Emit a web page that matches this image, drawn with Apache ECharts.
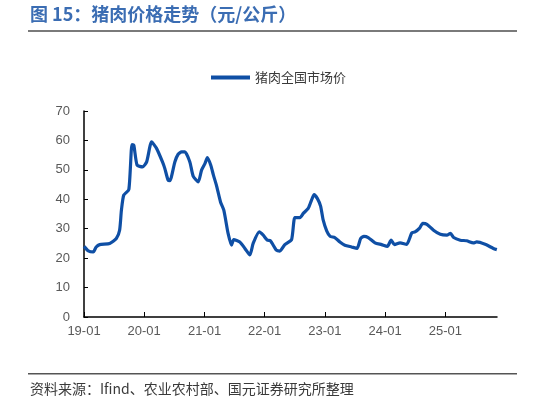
<!DOCTYPE html>
<html>
<head>
<meta charset="utf-8">
<script src="https://cdn.jsdelivr.net/npm/echarts@6/dist/echarts.min.js"></script>
<style>
  html, body { margin: 0; padding: 0; background: #fff; }
  #main { width: 536px; height: 403px; }
</style>
</head>
<body>
<div id="main"></div>
<script>
// 猪肉全国市场价 (元/公斤)
var dates = [
    '2019-01-01', '2019-01-27', '2019-02-26', '2019-03-16', '2019-04-06', '2019-06-06',
    '2019-07-16', '2019-08-05', '2019-08-16', '2019-08-30', '2019-09-30', '2019-10-19',
    '2019-10-30', '2019-11-19', '2019-12-22', '2020-01-16', '2020-02-15', '2020-03-16',
    '2020-04-21', '2020-05-05', '2020-05-25', '2020-06-05', '2020-07-05', '2020-07-25',
    '2020-08-15', '2020-09-04', '2020-10-04', '2020-10-24', '2020-11-24', '2020-12-14',
    '2021-01-04', '2021-01-18', '2021-02-08', '2021-02-24', '2021-03-14', '2021-04-08',
    '2021-04-28', '2021-05-24', '2021-06-14', '2021-06-27', '2021-08-03', '2021-09-03',
    '2021-10-03', '2021-10-23', '2021-11-29', '2021-12-23', '2022-01-17', '2022-02-03',
    '2022-03-13', '2022-04-03', '2022-05-03', '2022-06-13', '2022-07-03', '2022-08-03',
    '2022-08-23', '2022-09-22', '2022-10-12', '2022-10-28', '2022-11-16', '2022-12-06',
    '2022-12-22', '2023-01-12', '2023-02-02', '2023-03-02', '2023-04-02', '2023-05-02',
    '2023-06-12', '2023-07-15', '2023-08-06', '2023-08-26', '2023-09-21', '2023-11-01',
    '2023-12-11', '2024-01-15', '2024-02-07', '2024-02-27', '2024-04-01', '2024-05-11',
    '2024-06-11', '2024-07-01', '2024-07-27', '2024-08-17', '2024-09-11', '2024-10-21',
    '2024-12-01', '2025-01-10', '2025-02-01', '2025-02-20', '2025-04-01', '2025-05-10',
    '2025-06-20', '2025-07-10', '2025-08-30', '2025-10-19', '2025-11-09'
];
var prices = [
    24.0, 22.5, 22.1, 23.8, 24.6, 25.0,
    26.7, 29.5, 36.3, 41.4, 43.3, 58.6,
    58.4, 51.6, 51.0, 52.7, 59.5, 57.3,
    52.7, 50.5, 46.5, 46.3, 52.7, 55.3,
    56.1, 56.1, 52.7, 47.9, 45.9, 49.9,
    52.2, 54.2, 51.6, 48.2, 44.8, 39.1,
    36.3, 28.4, 24.4, 26.3, 25.5, 23.3,
    21.1, 25.0, 28.9, 27.8, 26.1, 26.0,
    22.7, 22.4, 24.6, 26.3, 33.8, 33.8,
    35.2, 36.9, 39.7, 41.6, 40.3, 37.7,
    32.9, 29.3, 27.4, 27.0, 25.5, 24.4,
    23.8, 23.3, 26.7, 27.4, 27.0, 25.2,
    24.6, 24.0, 26.1, 24.6, 25.2, 24.7,
    28.6, 28.9, 30.1, 31.8, 31.5, 29.5,
    28.1, 27.8, 28.4, 27.0, 26.1, 25.9,
    25.2, 25.5, 24.7, 23.3, 22.9
];
var yTicks = [0, 10, 20, 30, 40, 50, 60, 70];

var seriesData = dates.map(function (d, i) {
    return [d, prices[i]];
});

var myChart = echarts.init(document.getElementById('main'));
var cjk = '"Noto Sans CJK SC", sans-serif';
var latin = '"Liberation Sans", Arial, sans-serif';

var option = {
    backgroundColor: '#ffffff',
    animation: false,
    legend: {
        top: 66,
        left: 206,
        itemWidth: 39,
        itemHeight: 4,
        itemGap: 5,
        icon: 'rect',
        textStyle: { fontFamily: cjk, fontSize: 13, color: '#3a3a3a' },
        data: ['猪肉全国市场价']
    },
    grid: { left: 84, right: 39, top: 111, bottom: 86 },
    xAxis: {
        type: 'time',
        min: '2019-01-01',
        max: '2025-11-10',
        minInterval: 365 * 24 * 3600 * 1000,
        maxInterval: 366 * 24 * 3600 * 1000,
        axisLine: { lineStyle: { color: '#000000', width: 1.5 } },
        axisTick: { inside: true, length: 5, lineStyle: { color: '#000000' } },
        axisLabel: {
            formatter: '{yy}-{MM}',
            color: '#595959',
            fontFamily: latin,
            fontSize: 13,
            margin: 8
        },
        splitLine: { show: false }
    },
    yAxis: {
        type: 'value',
        min: yTicks[0],
        max: yTicks[yTicks.length - 1],
        interval: 10,
        axisLine: { show: true, lineStyle: { color: '#000000', width: 1.5 } },
        axisTick: { show: true, inside: true, length: 4, lineStyle: { color: '#000000' } },
        axisLabel: { color: '#595959', fontFamily: latin, fontSize: 13, margin: 14 },
        splitLine: { show: false }
    },
    series: [
        {
            name: '猪肉全国市场价',
            type: 'line',
            smooth: 0.2,
            symbol: 'none',
            lineStyle: { color: '#0f4fa5', width: 3.2 },
            itemStyle: { color: '#0f4fa5' },
            data: seriesData
        }
    ],
    graphic: [
        {
            type: 'text', left: 30, top: 5,
            style: {
                text: '图 15：猪肉价格走势（元/公斤）',
                fill: '#3b6db3',
                font: 'bold 18px ' + cjk
            }
        },
        {
            type: 'rect', shape: { x: 28, y: 30, width: 489, height: 2 },
            style: { fill: '#7a7a7a' }
        },
        {
            type: 'rect', shape: { x: 28, y: 373, width: 489, height: 1.5 },
            style: { fill: '#555555' }
        },
        {
            type: 'text', left: 30, top: 382,
            style: {
                text: '资料来源：Ifind、农业农村部、国元证券研究所整理',
                fill: '#3a3a3a',
                font: '14px ' + cjk
            }
        }
    ]
};

if (option && typeof option === 'object') {
    myChart.setOption(option, true);
}
</script>
</body>
</html>
